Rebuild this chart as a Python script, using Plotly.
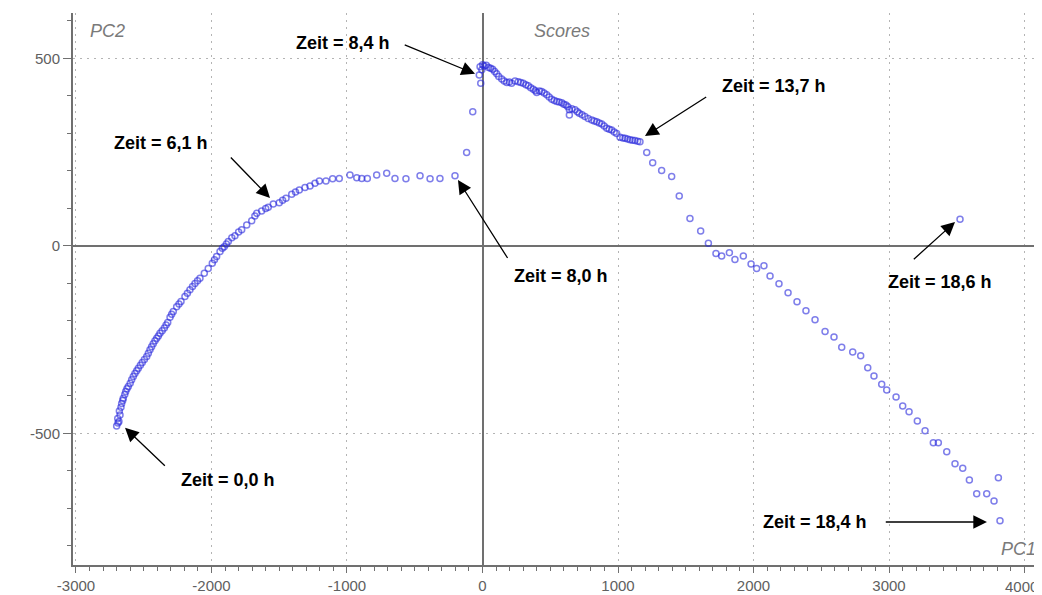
import plotly.graph_objects as go

# PCA scores (PC1, PC2), in time order
pc1 = [-2700, -2690, -2683, -2692, -2675, -2680, -2668, -2663, -2655, -2651, -2640, -2633, -2624,
       -2614, -2600, -2589, -2577, -2565, -2552, -2540, -2525, -2511, -2495, -2478, -2466, -2454,
       -2442, -2430, -2417, -2404, -2392, -2380, -2364, -2348, -2335, -2323, -2306, -2294, -2282,
       -2257, -2240, -2225, -2196, -2178, -2159, -2140, -2122, -2103, -2085, -2053, -2024, -1994,
       -1978, -1962, -1937, -1920, -1906, -1890, -1876, -1850, -1827, -1800, -1777, -1740, -1703,
       -1680, -1666, -1630, -1600, -1581, -1544, -1500, -1475, -1450, -1408, -1380, -1352, -1310,
       -1273, -1236, -1204, -1155, -1106, -1057, -978, -928, -891, -850, -781, -707, -646, -565,
       -461, -387, -314, -203, -117, -72, -24, -13, -18, -5, 1, 12, 28, 45, 60, 75, 90, 105, 120,
       142, 160, 179, 198, 215, 240, 264, 282, 301, 320, 338, 356, 375, 390, 400, 420, 437, 455,
       474, 492, 511, 530, 548, 566, 585, 600, 616, 630, 641, 641, 660, 683, 700, 714, 735, 756,
       780, 806, 825, 843, 862, 880, 898, 917, 935, 953, 972, 990, 1015, 1035, 1052, 1070, 1089,
       1107, 1125, 1145, 1162, 1212, 1256, 1322, 1396, 1452, 1531, 1610, 1667, 1723, 1765, 1822,
       1863, 1925, 1982, 2023, 2077, 2122, 2188, 2255, 2321, 2387, 2454, 2528, 2594, 2651, 2732,
       2791, 2843, 2889, 2946, 2983, 3052, 3101, 3148, 3209, 3266, 3327, 3364, 3426, 3487, 3544,
       3593, 3647, 3721, 3775, 3807, 3819, 3524]
pc2 = [-480, -472, -468, -460, -451, -440, -430, -420, -412, -406, -396, -388, -381,
       -375, -366, -357, -348, -340, -333, -326, -318, -311, -303, -295, -286, -277,
       -269, -261, -253, -246, -240, -233, -226, -219, -211, -204, -190, -182, -175,
       -162, -155, -148, -135, -126, -117, -108, -100, -93, -86, -73, -60, -46,
       -37, -28, -15, -6, -2, 5, 12, 22, 27, 37, 43, 56, 67,
       80, 87, 93, 100, 103, 112, 115, 122, 127, 138, 144, 149, 156,
       160, 167, 173, 173, 179, 180, 189, 182, 180, 180, 189, 194, 180, 179,
       187, 179, 180, 187, 249, 358, 456, 434, 478, 470, 483, 480, 482, 476, 474, 471, 465, 459, 452,
       445, 440, 436, 437, 434, 440, 438, 436, 434, 430, 427, 422, 418, 414, 409, 413, 412, 408,
       403, 397, 391, 388, 385, 384, 382, 378, 376, 371, 363, 349, 366, 363, 358, 354, 350, 345,
       340, 336, 333, 331, 328, 325, 320, 314, 311, 309, 304, 300, 290, 288, 287, 285, 283,
       282, 281, 279, 278, 249, 222, 201, 185, 133, 73, 40, 7, -20, -27, -18,
       -36, -27, -48, -60, -53, -80, -101, -125, -149, -173, -197, -228, -243, -270, -283,
       -293, -325, -347, -369, -384, -403, -427, -442, -467, -493, -525, -525, -549, -581, -593,
       -624, -661, -661, -680, -618, -733, 71]

x_ticks = [-3000, -2000, -1000, 0, 1000, 2000, 3000, 4000]
x_ticktext = ["-3000", "-2000", "-1000", "0", "1000", "2000", "3000", "4000"]
y_ticks = [-500, 0, 500]
y_ticktext = ["-500", "0", "500"]

# annotation labels: text, text position, arrow tail, arrow tip (data units)
labels = ["Zeit = 8,4 h", "Zeit = 6,1 h", "Zeit = 8,0 h", "Zeit = 13,7 h",
          "Zeit = 18,6 h", "Zeit = 0,0 h", "Zeit = 18,4 h"]
label_x = [-1030, -2373, 579, 2153, 3376, -1878, 2454]
label_y = [541, 275, -80, 427, -96, -624, -736]
tail_x = [-585, -1868, 192, 1662, 3172, -2333, 2965]
tail_y = [538, 240, -36, 400, -39, -590, -736]
tip_x = [-55, -1568, -181, 1199, 3487, -2638, 3723]
tip_y = [459, 128, 176, 293, 64, -485, -736]

fig = go.Figure()
fig.add_trace(go.Scatter(
    x=pc1, y=pc2, mode="markers",
    marker=dict(symbol="circle-open", size=6,
                line=dict(width=1.5), color="rgba(40,40,220,0.6)"),
    hoverinfo="x+y", showlegend=False))

axis_col = "#707070"
tick_font = dict(family="Arial, Liberation Sans", size=15, color="#606060")
common = dict(showgrid=True, gridcolor="#b4b4b4", gridwidth=1, griddash="2px,5px",
              zeroline=True, zerolinecolor=axis_col, zerolinewidth=2,
              showline=True, linecolor=axis_col, linewidth=2,
              ticks="outside", tickwidth=1, tickcolor=axis_col,
              tickfont=tick_font, ticklabeloverflow="allow",
              automargin=False, fixedrange=True)

# the last x label sits at the window edge; it is drawn as an annotation nudged left
shown_x_text = x_ticktext[:-1] + [""]
fig.update_xaxes(range=[-3022, 4129], tickmode="array", tickvals=x_ticks, ticktext=shown_x_text,
                 ticklen=6,
                 minor=dict(dtick=100, ticks="outside", ticklen=4, tickcolor=axis_col, showgrid=False),
                 **common)
fig.update_yaxes(range=[-850.7, 621.3], tickmode="array", tickvals=y_ticks, ticktext=y_ticktext,
                 ticklen=8,
                 minor=dict(dtick=100, ticks="outside", ticklen=4, tickcolor=axis_col, showgrid=False),
                 **common)

annotations = [dict(x=x_ticks[-1], y=0, xref="x", yref="paper", text=x_ticktext[-1],
                    showarrow=False, xanchor="center", yanchor="middle",
                    xshift=-3, yshift=-21, font=tick_font)]
for t, lx, ly in zip(labels, label_x, label_y):
    annotations.append(dict(x=lx, y=ly, xref="x", yref="y", text="<b>%s</b>" % t,
                            showarrow=False,
                            font=dict(family="Arial, Liberation Sans", size=18, color="black")))
for txx, tyy, hx, hy in zip(tail_x, tail_y, tip_x, tip_y):
    annotations.append(dict(x=hx, y=hy, xref="x", yref="y", ax=txx, ay=tyy,
                            axref="x", ayref="y", text="", showarrow=True,
                            arrowhead=2, arrowsize=2.1, arrowwidth=1.3, arrowcolor="black",
                            standoff=0, startstandoff=0))

corner_font = dict(family="Arial, Liberation Sans", size=18, color="#7a7a7a")
annotations += [
    dict(x=0.0155, y=0.967, xref="paper", yref="paper", text="<i>PC2</i>", showarrow=False,
         xanchor="left", yanchor="middle", font=corner_font),
    dict(x=0.5046, y=0.967, xref="paper", yref="paper", text="<i>Scores</i>", showarrow=False,
         xanchor="center", yanchor="middle", font=corner_font),
    dict(x=0.996, y=0.029, xref="paper", yref="paper", text="<i>PC1</i>", showarrow=False,
         xanchor="right", yanchor="middle", font=corner_font),
]

# page body has an 8 px margin, so the figure is sized and offset to match the window
fig.update_layout(width=1034, height=587, margin=dict(l=65, r=0, t=5, b=30),
                  paper_bgcolor="white", plot_bgcolor="white",
                  annotations=annotations, showlegend=False)

fig.write_html("out.html")
